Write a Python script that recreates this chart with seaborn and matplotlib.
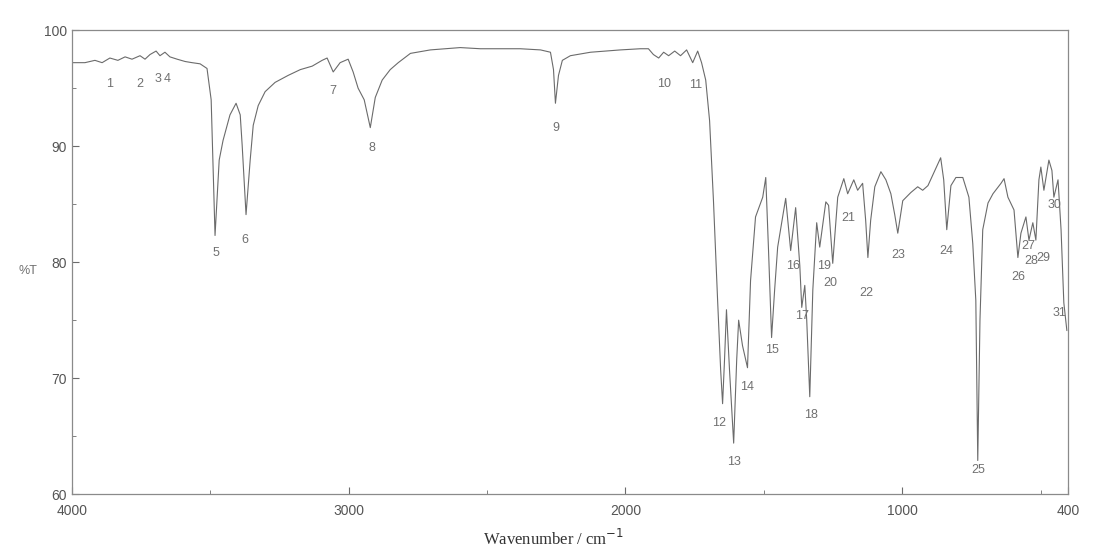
import numpy as np
import pandas as pd
import matplotlib
matplotlib.use("Agg")
import matplotlib.pyplot as plt
from matplotlib.ticker import MultipleLocator
import seaborn as sns

# IR spectrum (wavenumber in cm-1, transmittance in %)
wavenumber = [4000, 3953, 3917, 3891, 3863, 3834, 3808, 3783, 3754, 3736,
              3718, 3696, 3682, 3664, 3646, 3620, 3591, 3566, 3537, 3512,
              3497, 3483, 3468, 3454, 3429, 3407, 3392, 3385, 3371, 3356,
              3345, 3327, 3302, 3266, 3219, 3175, 3132, 3096, 3078, 3056,
              3031, 3002, 2984, 2966, 2944, 2922, 2904, 2879, 2850, 2821,
              2777, 2705, 2597, 2524, 2452, 2380, 2307, 2271, 2260, 2253,
              2242, 2228, 2199, 2126, 2018, 1946, 1917, 1899, 1880, 1862,
              1844, 1822, 1801, 1779, 1757, 1739, 1725, 1710, 1696, 1682,
              1667, 1656, 1649, 1642, 1635, 1624, 1609, 1598, 1591, 1577,
              1559, 1548, 1530, 1504, 1493, 1483, 1472, 1461, 1450, 1421,
              1403, 1385, 1370, 1363, 1352, 1345, 1334, 1323, 1309, 1298,
              1276, 1266, 1251, 1233, 1211, 1197, 1175, 1161, 1143, 1132,
              1124, 1114, 1099, 1077, 1059, 1041, 1027, 1016, 998, 969,
              944, 926, 907, 886, 861, 850, 839, 824, 806, 781,
              759, 745, 734, 727, 719, 709, 690, 672, 643, 632,
              618, 596, 582, 571, 553, 542, 528, 517, 506, 499,
              488, 470, 459, 452, 437, 426, 416, 405]
transmittance = [97.2, 97.2, 97.4, 97.2, 97.6, 97.4, 97.7, 97.5, 97.8, 97.5,
                 97.9, 98.2, 97.8, 98.1, 97.7, 97.5, 97.3, 97.2, 97.1, 96.7,
                 94.0, 82.3, 88.8, 90.5, 92.7, 93.7, 92.7, 90.1, 84.1, 88.8,
                 91.8, 93.5, 94.7, 95.5, 96.1, 96.6, 96.9, 97.4, 97.6, 96.4,
                 97.2, 97.5, 96.4, 95.0, 94.0, 91.6, 94.2, 95.7, 96.6, 97.2,
                 98.0, 98.3, 98.5, 98.4, 98.4, 98.4, 98.3, 98.1, 96.6, 93.7,
                 96.1, 97.4, 97.8, 98.1, 98.3, 98.4, 98.4, 97.9, 97.6, 98.1,
                 97.8, 98.2, 97.8, 98.3, 97.2, 98.2, 97.2, 95.7, 92.2, 85.3,
                 76.7, 70.7, 67.8, 71.6, 75.9, 70.7, 64.4, 71.6, 75.0, 72.8,
                 70.9, 78.4, 83.9, 85.6, 87.3, 81.0, 73.5, 77.6, 81.3, 85.5,
                 81.0, 84.7, 79.7, 76.1, 78.0, 75.0, 68.4, 77.6, 83.4, 81.3,
                 85.2, 84.9, 79.9, 85.6, 87.2, 85.9, 87.1, 86.2, 86.8, 83.6,
                 80.4, 83.6, 86.5, 87.8, 87.1, 85.9, 84.1, 82.5, 85.3, 86.0,
                 86.5, 86.2, 86.6, 87.7, 89.0, 87.1, 82.8, 86.6, 87.3, 87.3,
                 85.6, 81.6, 76.7, 62.9, 75.0, 82.8, 85.1, 85.9, 86.8, 87.2,
                 85.6, 84.5, 80.4, 82.5, 83.9, 81.9, 83.4, 81.9, 87.1, 88.2,
                 86.2, 88.8, 87.9, 85.6, 87.1, 82.8, 76.5, 74.1]

# peak numbers and where they are printed
peak_labels = ["1", "2", "3", "4", "5", "6", "7", "8", "9", "10", "11", "12",
               "13", "14", "15", "16", "17", "18", "19", "20", "21", "22",
               "23", "24", "25", "26", "27", "28", "29", "30", "31"]
label_wn = [3863, 3754, 3688, 3656, 3479, 3374, 3056, 2915, 2253, 1862, 1747,
            1660, 1609, 1562, 1472, 1396, 1363, 1331, 1284, 1258, 1193, 1128,
            1016, 839, 727, 582, 546, 533, 489, 449, 431]
label_t = [95.4, 95.4, 95.8, 95.8, 80.8, 81.9, 94.8, 89.8, 91.6, 95.4, 95.3,
           66.1, 62.8, 69.2, 72.4, 79.7, 75.4, 66.8, 79.7, 78.2, 83.8, 77.3,
           80.6, 81.0, 62.1, 78.7, 81.4, 80.1, 80.4, 84.9, 75.6]

x_ticks = [4000, 3000, 2000, 1000, 400]
y_ticks = [60, 70, 80, 90, 100]

df = pd.DataFrame({"wn": wavenumber, "T": transmittance})

sns.set_style("ticks")
plt.rcParams["font.family"] = ["Liberation Sans", "DejaVu Sans"]
grey = "#6b6b6b"

fig = plt.figure(figsize=(11.07, 5.59), dpi=100)
ax = fig.add_axes([0.065, 0.116, 0.9, 0.83])

sns.lineplot(data=df, x="wn", y="T", sort=False, estimator=None,
             color=grey, linewidth=0.8, ax=ax)

for lab, w, t in zip(peak_labels, label_wn, label_t):
    ax.text(w, t, lab, ha="center", va="center", fontsize=9, color="#707070")

ax.set_xlim(4000, 400)
ax.set_ylim(60, 100)
ax.set_xticks(x_ticks)
ax.set_yticks(y_ticks)
ax.xaxis.set_minor_locator(MultipleLocator(500))
ax.yaxis.set_minor_locator(MultipleLocator(5))
ax.tick_params(axis="both", which="both", direction="in", colors=grey,
               labelsize=10, labelcolor="#555555")
ax.tick_params(which="major", length=5)
ax.tick_params(which="minor", length=3)
ax.tick_params(axis="x", pad=7)
for s in ax.spines.values():
    s.set_color("#8a8a8a")
    s.set_linewidth(0.9)

ax.set_xlabel("")
ax.set_ylabel("")
fig.text(0.025, 0.515, "%T", fontsize=9, color="#707070", ha="center", va="center")
fig.text(0.5, 0.035, "Wavenumber / cm$^{-1}$", fontsize=12, color="#333333",
         ha="center", va="center", family=["Liberation Serif", "DejaVu Serif"])

fig.savefig("out.png", dpi=100)
